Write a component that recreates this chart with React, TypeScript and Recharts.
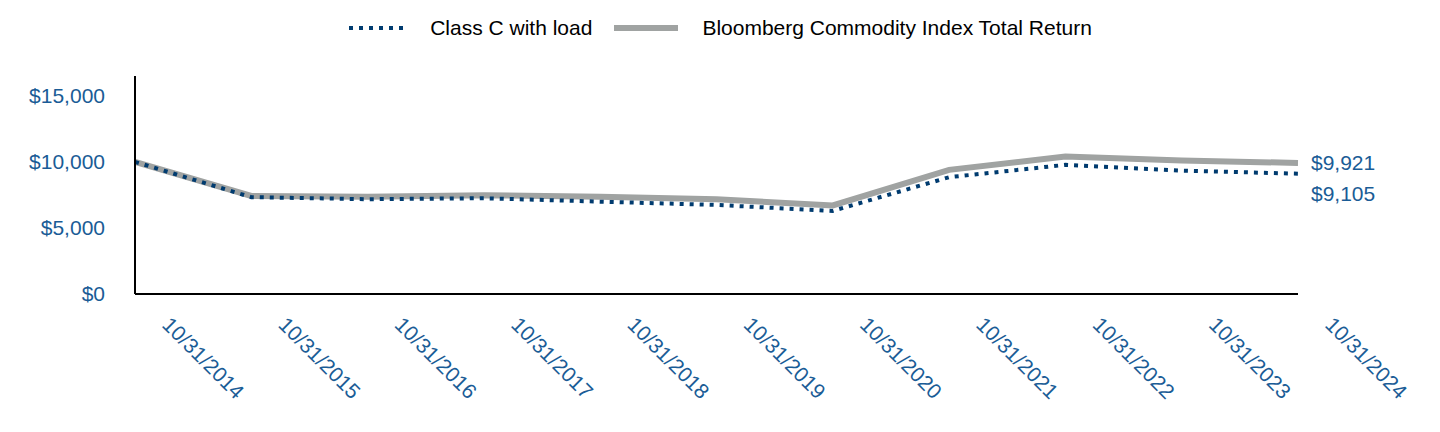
import { CartesianGrid, LabelList, Line, LineChart, XAxis, YAxis } from "recharts";

const dates = [
  "10/31/2014",
  "10/31/2015",
  "10/31/2016",
  "10/31/2017",
  "10/31/2018",
  "10/31/2019",
  "10/31/2020",
  "10/31/2021",
  "10/31/2022",
  "10/31/2023",
  "10/31/2024"
];

const classC = [10000, 7330, 7175, 7250, 6990, 6740, 6290, 8840, 9775, 9340, 9105];
const bloomberg = [10000, 7425, 7370, 7475, 7370, 7175, 6700, 9395, 10400, 10100, 9921];

const seriesNames = ["Class C with load", "Bloomberg Commodity Index Total Return"];
const yTicks = [0, 5000, 10000, 15000];

const NAVY = "#003B6F";
const GRAY = "#A0A3A2";
const TEXT = "#1A5C96";
const FONT = "'Liberation Sans', Arial, sans-serif";
const FS = 21;

const data = dates.map((date, i) => ({ date, classC: classC[i], bloomberg: bloomberg[i] }));

const money = (v: number) => "$" + v.toLocaleString("en-US");

function DateTick({ x, y, payload }: any) {
  const tx = x + 26;
  const ty = y + 24;
  return (
    <text
      x={tx}
      y={ty}
      transform={`rotate(45, ${tx}, ${ty})`}
      textAnchor="start"
      fill={TEXT}
      fontSize={FS}
      fontFamily={FONT}
    >
      {payload.value}
    </text>
  );
}

function endLabel(dy: number) {
  return (props: any) => {
    const { x, y, index, value } = props;
    if (index !== dates.length - 1) return null;
    return (
      <text x={x + 13} y={y + dy} dominantBaseline="central" fill={TEXT} fontSize={FS} fontFamily={FONT}>
        {money(value)}
      </text>
    );
  };
}

function Legend() {
  const item = { display: "flex", alignItems: "center" } as const;
  return (
    <div
      style={{
        position: "absolute",
        top: 16,
        left: 0,
        width: 1440,
        display: "flex",
        justifyContent: "center",
        fontFamily: FONT,
        fontSize: FS,
        color: "#000"
      }}
    >
      <div style={item}>
        <svg width={58} height={8}>
          <line x1={1} y1={4} x2={58} y2={4} stroke={NAVY} strokeWidth={4} strokeDasharray="4 6" />
        </svg>
        <span style={{ marginLeft: 24 }}>{seriesNames[0]}</span>
      </div>
      <div style={{ ...item, marginLeft: 22 }}>
        <svg width={64} height={8}>
          <line x1={0} y1={4} x2={64} y2={4} stroke={GRAY} strokeWidth={6} />
        </svg>
        <span style={{ marginLeft: 24 }}>{seriesNames[1]}</span>
      </div>
    </div>
  );
}

export default function App() {
  return (
    <div style={{ position: "absolute", top: 0, left: 0, width: 1440, height: 432, background: "#fff" }}>
      <Legend />
      <LineChart width={1440} height={432} data={data} margin={{ top: 76, right: 142, bottom: 0, left: 0 }}>
        <CartesianGrid stroke="none" />
        <XAxis
          dataKey="date"
          interval={0}
          height={138}
          tickLine={false}
          axisLine={{ stroke: "#000", strokeWidth: 2 }}
          tick={<DateTick />}
        />
        <YAxis
          width={135}
          domain={[0, 16500]}
          ticks={yTicks}
          tickLine={false}
          tickSize={0}
          tickMargin={30}
          axisLine={{ stroke: "#000", strokeWidth: 2 }}
          tickFormatter={money}
          tick={{ fill: TEXT, fontSize: FS, fontFamily: FONT }}
        />
        <Line
          type="linear"
          dataKey="bloomberg"
          stroke={GRAY}
          strokeWidth={6}
          dot={false}
          activeDot={false}
          isAnimationActive={false}
        >
          <LabelList dataKey="bloomberg" content={endLabel(0)} />
        </Line>
        <Line
          type="linear"
          dataKey="classC"
          stroke={NAVY}
          strokeWidth={4}
          strokeDasharray="4 6"
          dot={false}
          activeDot={false}
          isAnimationActive={false}
        >
          <LabelList dataKey="classC" content={endLabel(20)} />
        </Line>
      </LineChart>
    </div>
  );
}
